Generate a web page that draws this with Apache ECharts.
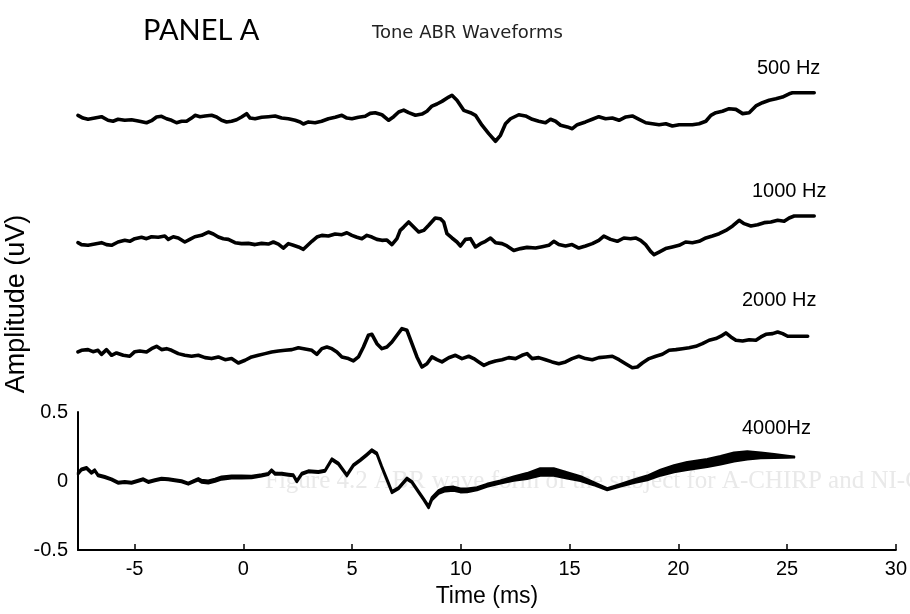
<!DOCTYPE html>
<html>
<head>
<meta charset="utf-8">
<script src="https://cdn.jsdelivr.net/npm/echarts@6/dist/echarts.min.js"></script>
<style>
  html, body { margin: 0; padding: 0; background: #fff; }
  #chart { width: 910px; height: 614px; }
</style>
</head>
<body>
<div id="chart"></div>
<script>
// Tone-evoked ABR waveforms, time in ms, amplitude in uV.
// Upper three traces are relative amplitudes stacked with a display offset.

const xTicks = [-5, 0, 5, 10, 15, 20, 25, 30];

const offset500 = 2.65;
const tone500 = [
  [-7.6, 0.0], [-7.37, -0.02], [-7.14, -0.029], [-6.83, -0.02], [-6.52, -0.01], [-6.22, -0.036],
  [-5.99, -0.043], [-5.76, -0.029], [-5.45, -0.036], [-5.14, -0.032], [-4.83, -0.041], [-4.45, -0.054],
  [-4.22, -0.039], [-3.99, -0.012], [-3.76, -0.007], [-3.53, -0.025], [-3.3, -0.036], [-3.07, -0.054],
  [-2.84, -0.043], [-2.61, -0.043], [-2.38, -0.02], [-2.22, 0.0], [-1.99, -0.01], [-1.76, -0.005],
  [-1.46, 0.0], [-1.23, -0.012], [-1.0, -0.036], [-0.77, -0.048], [-0.54, -0.043], [-0.31, -0.032],
  [-0.08, -0.012], [0.15, 0.012], [0.31, -0.02], [0.54, -0.025], [0.84, -0.014], [1.15, -0.01],
  [1.46, -0.005], [1.76, -0.02], [2.07, -0.025], [2.38, -0.036], [2.61, -0.048], [2.76, -0.063],
  [2.99, -0.048], [3.3, -0.054], [3.6, -0.043], [3.91, -0.025], [4.22, -0.014], [4.53, 0.0],
  [4.76, -0.02], [4.99, -0.025], [5.29, -0.014], [5.6, -0.007], [5.83, 0.014], [6.06, 0.019],
  [6.37, 0.004], [6.68, -0.036], [6.91, -0.01], [7.14, 0.024], [7.37, 0.038], [7.6, 0.019],
  [7.91, 0.0], [8.21, 0.009], [8.44, 0.029], [8.67, 0.067], [8.9, 0.082], [9.13, 0.101],
  [9.44, 0.132], [9.59, 0.145], [9.82, 0.109], [10.13, 0.036], [10.44, 0.019], [10.67, 0.0],
  [10.97, -0.072], [11.28, -0.133], [11.59, -0.188], [11.82, -0.145], [12.05, -0.061], [12.28, -0.025],
  [12.66, 0.004], [12.97, -0.005], [13.28, -0.029], [13.58, -0.043], [13.89, -0.054], [14.12, -0.029],
  [14.35, -0.043], [14.58, -0.072], [14.89, -0.084], [15.12, -0.097], [15.35, -0.068], [15.73, -0.048],
  [16.04, -0.029], [16.34, -0.01], [16.65, -0.025], [16.96, -0.02], [17.27, -0.036], [17.58, -0.012],
  [17.88, -0.005], [18.19, -0.029], [18.5, -0.054], [18.8, -0.061], [19.11, -0.068], [19.42, -0.061],
  [19.72, -0.078], [20.03, -0.068], [20.34, -0.068], [20.64, -0.068], [20.95, -0.061], [21.26, -0.043],
  [21.49, 0.0], [21.72, 0.019], [22.02, 0.029], [22.33, 0.048], [22.64, 0.043], [22.95, 0.012],
  [23.25, 0.019], [23.56, 0.068], [23.86, 0.091], [24.17, 0.109], [24.48, 0.12], [24.78, 0.132],
  [25.09, 0.156], [25.24, 0.163], [26.24, 0.163]
];

const offset1000 = 1.727;
const tone1000 = [
  [-7.6, 0.0], [-7.44, -0.014], [-7.14, -0.019], [-6.83, -0.01], [-6.52, 0.0], [-6.29, -0.014],
  [-6.06, -0.019], [-5.76, 0.005], [-5.45, 0.017], [-5.22, 0.01], [-4.99, 0.029], [-4.68, 0.039],
  [-4.45, 0.029], [-4.22, 0.043], [-3.91, 0.039], [-3.61, 0.048], [-3.45, 0.024], [-3.22, 0.043],
  [-2.99, 0.034], [-2.69, 0.005], [-2.46, 0.024], [-2.23, 0.043], [-1.92, 0.053], [-1.61, 0.077],
  [-1.38, 0.063], [-1.15, 0.041], [-0.92, 0.029], [-0.69, 0.024], [-0.38, 0.0], [-0.08, -0.007],
  [0.23, -0.005], [0.54, -0.014], [0.84, -0.005], [1.15, -0.01], [1.38, 0.005], [1.61, -0.01],
  [1.84, -0.039], [2.07, -0.007], [2.3, -0.019], [2.53, -0.031], [2.76, -0.048], [2.92, -0.024],
  [3.15, 0.01], [3.38, 0.041], [3.61, 0.053], [3.91, 0.048], [4.22, 0.063], [4.53, 0.058],
  [4.76, 0.072], [4.99, 0.053], [5.22, 0.039], [5.45, 0.029], [5.68, 0.053], [5.91, 0.041],
  [6.14, 0.024], [6.37, 0.017], [6.6, 0.019], [6.83, -0.014], [7.06, 0.029], [7.21, 0.089],
  [7.37, 0.113], [7.6, 0.15], [7.83, 0.113], [8.06, 0.077], [8.29, 0.089], [8.52, 0.126],
  [8.82, 0.179], [9.05, 0.174], [9.21, 0.15], [9.36, 0.065], [9.59, 0.034], [9.82, 0.005],
  [9.98, -0.024], [10.21, 0.024], [10.44, 0.029], [10.67, -0.031], [10.9, -0.007], [11.13, 0.01],
  [11.36, 0.034], [11.59, 0.0], [11.89, -0.007], [12.12, -0.024], [12.43, -0.056], [12.74, -0.043],
  [13.04, -0.034], [13.43, -0.039], [13.74, -0.029], [14.04, -0.019], [14.27, 0.01], [14.5, -0.014],
  [14.81, -0.024], [15.11, -0.014], [15.42, -0.039], [15.73, -0.024], [16.04, -0.007], [16.34, 0.017],
  [16.57, 0.048], [16.88, 0.024], [17.19, 0.01], [17.49, 0.034], [17.8, 0.029], [18.03, 0.034],
  [18.26, 0.017], [18.49, -0.014], [18.72, -0.063], [18.88, -0.087], [19.11, -0.068], [19.41, -0.043],
  [19.72, -0.031], [20.03, -0.019], [20.33, 0.005], [20.64, 0.0], [20.95, 0.01], [21.26, 0.034],
  [21.56, 0.048], [21.87, 0.065], [22.18, 0.089], [22.49, 0.121], [22.79, 0.162], [23.02, 0.138],
  [23.33, 0.121], [23.64, 0.13], [23.94, 0.145], [24.25, 0.15], [24.56, 0.162], [24.86, 0.155],
  [25.09, 0.179], [25.32, 0.193], [26.24, 0.193]
];

const offset2000 = 0.935;
const tone2000 = [
  [-7.6, 0.0], [-7.44, 0.012], [-7.14, 0.017], [-6.91, 0.002], [-6.68, 0.012], [-6.52, -0.017],
  [-6.29, 0.017], [-6.06, -0.024], [-5.83, -0.007], [-5.52, -0.024], [-5.22, -0.031], [-4.99, 0.002],
  [-4.76, 0.007], [-4.45, 0.0], [-4.22, 0.024], [-3.99, 0.041], [-3.76, 0.017], [-3.53, 0.024],
  [-3.3, 0.012], [-2.99, -0.012], [-2.69, -0.024], [-2.38, -0.031], [-2.07, -0.024], [-1.76, -0.041],
  [-1.46, -0.048], [-1.15, -0.036], [-0.84, -0.056], [-0.54, -0.048], [-0.23, -0.08], [0.08, -0.06],
  [0.38, -0.036], [0.69, -0.024], [1.0, -0.012], [1.3, 0.0], [1.61, 0.007], [1.92, 0.012],
  [2.23, 0.017], [2.53, 0.031], [2.84, 0.022], [3.15, 0.012], [3.38, -0.017], [3.61, 0.024],
  [3.84, 0.036], [4.07, 0.024], [4.3, 0.0], [4.53, -0.036], [4.83, -0.048], [5.06, -0.065],
  [5.29, -0.036], [5.52, 0.036], [5.75, 0.121], [5.91, 0.128], [6.14, 0.06], [6.37, 0.024],
  [6.6, 0.036], [6.83, 0.072], [7.06, 0.121], [7.29, 0.169], [7.52, 0.157], [7.75, 0.06],
  [7.98, -0.036], [8.21, -0.109], [8.44, -0.085], [8.67, -0.036], [8.9, -0.056], [9.13, -0.072],
  [9.44, -0.042], [9.75, -0.024], [10.05, -0.048], [10.36, -0.031], [10.59, -0.048], [10.82, -0.072],
  [11.05, -0.097], [11.28, -0.08], [11.59, -0.065], [11.89, -0.056], [12.2, -0.041], [12.51, -0.048],
  [12.81, -0.024], [13.04, -0.012], [13.27, -0.048], [13.58, -0.041], [13.89, -0.056], [14.19, -0.072],
  [14.5, -0.085], [14.81, -0.072], [15.11, -0.048], [15.42, -0.031], [15.73, -0.048], [16.04, -0.056],
  [16.34, -0.041], [16.65, -0.036], [16.96, -0.031], [17.27, -0.056], [17.57, -0.085], [17.88, -0.114],
  [18.11, -0.109], [18.34, -0.08], [18.65, -0.048], [18.96, -0.031], [19.26, -0.017], [19.57, 0.012],
  [19.88, 0.017], [20.18, 0.024], [20.49, 0.031], [20.8, 0.041], [21.1, 0.06], [21.41, 0.085],
  [21.72, 0.097], [21.95, 0.114], [22.18, 0.138], [22.41, 0.109], [22.64, 0.085], [22.95, 0.08],
  [23.25, 0.089], [23.56, 0.085], [23.79, 0.109], [24.02, 0.128], [24.33, 0.133], [24.56, 0.145],
  [24.79, 0.133], [25.02, 0.114], [25.94, 0.114]
];

// 4000 Hz: mean waveform with its spread band (absolute uV on the lower axis)
const time4000 = [
  -7.6, -7.44, -7.21, -6.98, -6.83, -6.68, -6.37, -6.06, -5.76, -5.45, -5.14, -4.83,
  -4.6, -4.37, -4.07, -3.76, -3.45, -3.15, -2.84, -2.53, -2.23, -2.07, -1.92, -1.61,
  -1.3, -1.0, -0.54, -0.08, 0.38, 0.84, 1.15, 1.3, 1.46, 1.76, 2.07, 2.3,
  2.46, 2.69, 2.99, 3.45, 3.76, 4.07, 4.37, 4.76, 5.06, 5.37, 5.68, 5.91,
  6.14, 6.37, 6.68, 6.83, 7.14, 7.52, 7.75, 8.06, 8.29, 8.52, 8.67, 8.98,
  9.28, 9.67, 9.98, 10.29, 10.74, 11.2, 11.82, 12.43, 13.04, 13.65, 14.27, 14.88,
  15.5, 16.11, 16.73, 17.34, 17.96, 18.57, 19.18, 19.8, 20.41, 21.33, 21.94, 22.56,
  23.17, 23.79, 24.4, 25.02, 25.32
];
const mean4000 = [
  0.053, 0.084, 0.094, 0.06, 0.077, 0.041, 0.029, 0.012, -0.012, -0.007, -0.012, 0.002,
  0.012, -0.007, 0.005, 0.017, 0.012, 0.005, -0.002, -0.019, 0.002, 0.012, -0.002, -0.007,
  0.005, 0.021, 0.029, 0.029, 0.029, 0.041, 0.051, 0.077, 0.053, 0.053, 0.046, 0.041,
  -0.002, 0.053, 0.07, 0.065, 0.075, 0.157, 0.126, 0.041, 0.114, 0.15, 0.191, 0.222,
  0.198, 0.101, -0.019, -0.08, -0.051, 0.017, -0.007, -0.08, -0.133, -0.188, -0.128, -0.08,
  -0.06, -0.056, -0.068, -0.068, -0.056, -0.031, -0.007, 0.017, 0.036, 0.065, 0.065, 0.041,
  0.017, -0.019, -0.06, -0.031, -0.002, 0.022, 0.06, 0.089, 0.109, 0.13, 0.15, 0.174,
  0.186, 0.186, 0.181, 0.176, 0.174
];
const sd4000 = [
  0.006, 0.006, 0.006, 0.006, 0.006, 0.006, 0.006, 0.006, 0.006, 0.006, 0.006, 0.006,
  0.006, 0.006, 0.006, 0.006, 0.006, 0.006, 0.006, 0.006, 0.006, 0.008, 0.009, 0.01,
  0.01, 0.01, 0.01, 0.009, 0.008, 0.007, 0.006, 0.006, 0.006, 0.006, 0.006, 0.006,
  0.006, 0.006, 0.006, 0.006, 0.006, 0.006, 0.006, 0.006, 0.006, 0.006, 0.006, 0.006,
  0.006, 0.006, 0.006, 0.006, 0.006, 0.006, 0.006, 0.006, 0.006, 0.008, 0.01, 0.012,
  0.014, 0.014, 0.013, 0.012, 0.01, 0.009, 0.01, 0.014, 0.02, 0.026, 0.026, 0.022,
  0.016, 0.01, 0.006, 0.008, 0.012, 0.016, 0.02, 0.024, 0.028, 0.028, 0.03, 0.031,
  0.028, 0.02, 0.013, 0.006, 0.003
];

const traceLabels = ['500 Hz', '1000 Hz', '2000 Hz', '4000Hz'];

// ---- build series ----
const shift = (pts, off) => pts.map(p => [p[0], +(p[1] + off).toFixed(4)]);
const data4000 = time4000.map((t, i) => [t, mean4000[i], sd4000[i]]);

const traceLine = { color: '#000', width: 3.6, join: 'round', cap: 'round' };
const font = 'Liberation Sans';

// filled band between mean - sd and mean + sd, drawn once through the axis scales
function renderBand(params, api) {
  if (params.dataIndex !== 0) return null;
  const upper = data4000.map(d => api.coord([d[0], d[1] + d[2]]));
  const lower = data4000.map(d => api.coord([d[0], d[1] - d[2]])).reverse();
  return {
    type: 'polygon',
    shape: { points: upper.concat(lower) },
    style: { fill: '#000', stroke: '#000', lineWidth: 2.4, lineJoin: 'round' }
  };
}

const chart = echarts.init(document.getElementById('chart'), null, { renderer: 'canvas' });

chart.setOption({
  backgroundColor: '#ffffff',
  animation: false,
  grid: [
    { left: 78, right: 14, top: 39.4, height: 372.6 },
    { left: 78, right: 14, top: 412, height: 138 }
  ],
  xAxis: [
    { gridIndex: 0, type: 'value', min: -7.6, max: 30, show: false },
    {
      gridIndex: 1, type: 'value', min: -7.6, max: 30, splitNumber: 8,
      axisLine: { show: true, onZero: false, lineStyle: { color: '#000', width: 2 } },
      axisTick: { show: true, inside: true, length: 6, lineStyle: { color: '#000', width: 1.5 } },
      splitLine: { show: false },
      axisLabel: {
        color: '#000', fontFamily: font, fontSize: 20, margin: 9,
        formatter: v => (xTicks.indexOf(v) >= 0 ? String(v) : '')
      },
      name: 'Time (ms)', nameLocation: 'middle', nameGap: 35,
      nameTextStyle: { color: '#000', fontFamily: font, fontSize: 23 }
    }
  ],
  yAxis: [
    { gridIndex: 0, type: 'value', min: 0.5, max: 3.2, show: false },
    {
      gridIndex: 1, type: 'value', min: -0.5, max: 0.5, interval: 0.5,
      axisLine: { show: true, onZero: false, lineStyle: { color: '#000', width: 2 } },
      axisTick: { show: false },
      splitLine: { show: false },
      axisLabel: { color: '#000', fontFamily: font, fontSize: 20, margin: 10 }
    }
  ],
  graphic: [
    // faint show-through line printed on the page behind the figure
    {
      type: 'text', x: 265, y: 481, z: -10, silent: true,
      style: { text: 'Figure 4.2 ABR wave form of the subject for A-CHIRP and NI-CHIRP', font: '25px "Liberation Serif"', fill: '#e9e9e9', verticalAlign: 'middle' }
    },
    { type: 'text', x: 143, y: 31, style: { text: 'PANEL A', font: '29px Lato', fill: '#000', verticalAlign: 'middle' } },
    { type: 'text', x: 372, y: 33, style: { text: 'Tone ABR Waveforms', font: '18px "DejaVu Sans"', fill: '#222', verticalAlign: 'middle' } },
    { type: 'text', x: 757, y: 68, style: { text: traceLabels[0], font: '20px "Liberation Sans"', fill: '#000', verticalAlign: 'middle' } },
    { type: 'text', x: 752, y: 191, style: { text: traceLabels[1], font: '20px "Liberation Sans"', fill: '#000', verticalAlign: 'middle' } },
    { type: 'text', x: 742, y: 300, style: { text: traceLabels[2], font: '20px "Liberation Sans"', fill: '#000', verticalAlign: 'middle' } },
    { type: 'text', x: 742, y: 428, style: { text: traceLabels[3], font: '20px "Liberation Sans"', fill: '#000', verticalAlign: 'middle' } },
    {
      type: 'text', x: 17, y: 304, rotation: Math.PI / 2,
      style: { text: 'Amplitude (uV)', font: '27px "Liberation Sans"', fill: '#000', align: 'center', verticalAlign: 'middle' }
    }
  ],
  series: [
    { type: 'line', xAxisIndex: 0, yAxisIndex: 0, showSymbol: false, data: shift(tone500, offset500), lineStyle: traceLine },
    { type: 'line', xAxisIndex: 0, yAxisIndex: 0, showSymbol: false, data: shift(tone1000, offset1000), lineStyle: traceLine },
    { type: 'line', xAxisIndex: 0, yAxisIndex: 0, showSymbol: false, data: shift(tone2000, offset2000), lineStyle: traceLine },
    {
      type: 'custom', xAxisIndex: 1, yAxisIndex: 1, renderItem: renderBand,
      data: data4000, encode: { x: 0, y: 1 }
    }
  ]
});
</script>
</body>
</html>
